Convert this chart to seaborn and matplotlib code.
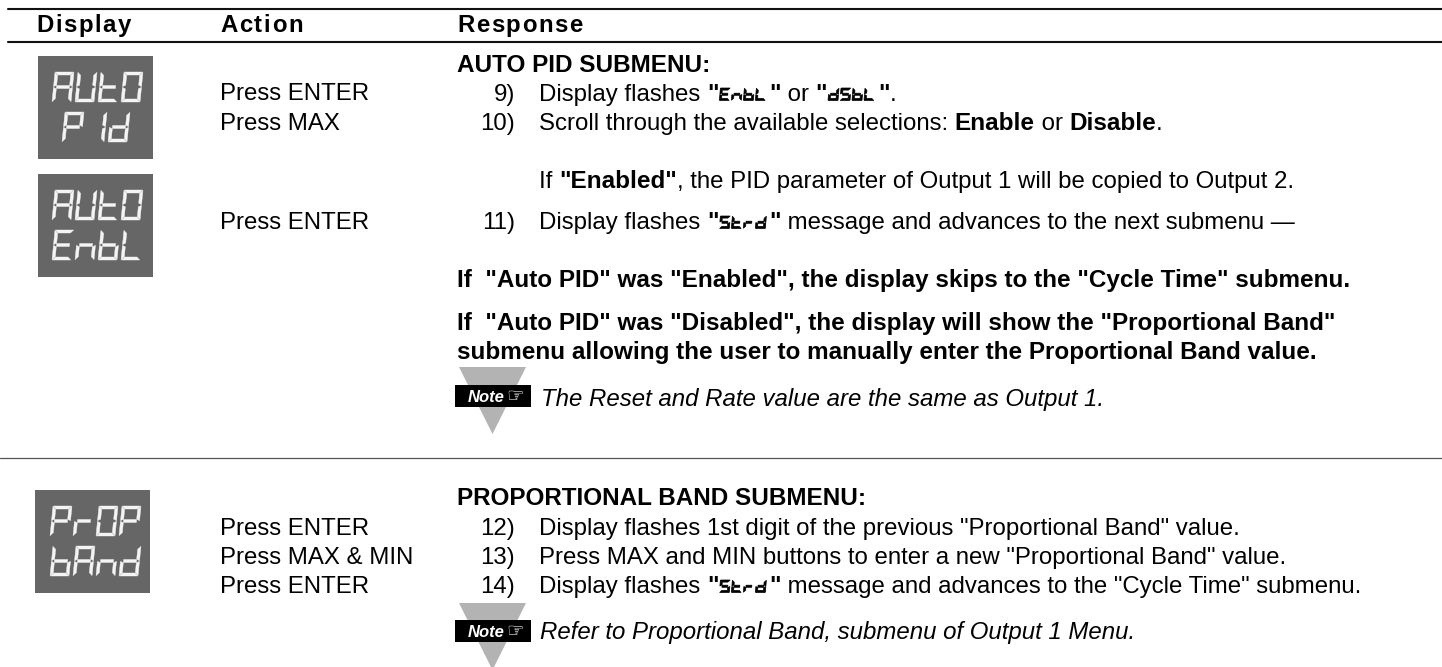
import matplotlib
matplotlib.use("Agg")
import matplotlib.pyplot as plt
from matplotlib.patches import Polygon, Rectangle
import seaborn as sns

# Table text
HEADERS = [("Display", 36), ("Action", 220), ("Response", 457)]
ACTIONS = [
    ("Press ENTER", 100), ("Press MAX", 130), ("Press ENTER", 229),
    ("Press ENTER", 535), ("Press MAX & MIN", 564), ("Press ENTER", 593),
]
STEP_NUMBERS = [("9)", 101), ("10)", 130), ("11)", 229), ("12)", 535), ("13)", 564), ("14)", 593)]

# n = normal, b = bold, i = italic, s = seven segment glyphs
BODY_LINES = [
    (457, 72, [("AUTO PID SUBMENU:", "b")]),
    (539, 101, [("Display flashes ", "n"), ('"', "b"), ("EnbL", "s"), ('"', "b"), (" or ", "n"),
                ('"', "b"), ("dSbL", "s"), ('"', "b"), (".", "n")]),
    (539, 130, [("Scroll through the available selections: ", "n"), ("Enable", "b"), (" or ", "n"),
                ("Disable", "b"), (".", "n")]),
    (539, 188, [("If ", "n"), ('"Enabled"', "b"), (", the PID parameter of Output 1 will be copied to Output 2.", "n")]),
    (539, 229, [("Display flashes ", "n"), ('"', "b"), ("Strd", "s"), ('"', "b"),
                (" message and advances to the next submenu \u2014", "n")]),
    (457, 287, [('If  "Auto PID" was "Enabled", the display skips to the "Cycle Time" submenu.', "b")]),
    (457, 330, [('If  "Auto PID" was "Disabled", the display will show the "Proportional Band"', "b")]),
    (457, 359, [("submenu allowing the user to manually enter the Proportional Band value.", "b")]),
    (541, 406, [("The Reset and Rate value are the same as Output 1.", "i")]),
    (457, 505, [("PROPORTIONAL BAND SUBMENU:", "b")]),
    (539, 535, [('Display flashes 1st digit of the previous "Proportional Band" value.', "n")]),
    (539, 564, [('Press MAX and MIN buttons to enter a new "Proportional Band" value.', "n")]),
    (539, 593, [("Display flashes ", "n"), ('"', "b"), ("Strd", "s"), ('"', "b"),
                (' message and advances to the "Cycle Time" submenu.', "n")]),
    (540, 639, [("Refer to Proportional Band, submenu of Output 1 Menu.", "i")]),
]

# panel left, panel top, first row text + x, second row text + x
DISPLAY_PANELS = [
    (38, 56, ("AUtO", 52), ("P1d", 62)),
    (38, 174, ("AUtO", 52), ("EnbL", 52)),
    (35, 490, ("PrOP", 50), ("bAnd", 50)),
]
NOTE_MARKS = [(367, 385), (603, 620)]

SEGMENTS = {
    "A": "abcefg", "U": "bcdef", "t": "defg", "O": "abcdef", "P": "abefg", "1": "bc",
    "d": "bcdeg", "E": "adefg", "n": "ceg", "b": "cdefg", "L": "def", "r": "eg", "S": "acdfg",
}

sns.set_theme(style="white")
plt.rcParams["font.family"] = ["Liberation Sans", "DejaVu Sans"]

fig, ax = plt.subplots(figsize=(14.42, 6.67), dpi=100)
ax.set_position([0, 0, 1, 1])
ax.axis("off")

# Rules
for x0, y, lw, color in [(8, 8.5, 1.5, "#111111"), (8, 41.5, 1.5, "#111111"), (0, 458, 0.9, "#555555")]:
    sns.lineplot(x=[x0, 1442], y=[y, y], ax=ax, color=color, linewidth=lw, legend=False, errorbar=None)

ax.set_xlim(0, 1442)
ax.set_ylim(667, 0)

BODY_SIZE = 17.3
BOLD_SIZE = 17.45
renderer = fig.canvas.get_renderer()


def text_width(s, size, **kw):
    t = ax.text(0, 0, "|" + s + "|", fontsize=size, **kw)
    w1 = t.get_window_extent(renderer).width
    t.set_text("||")
    w0 = t.get_window_extent(renderer).width
    t.remove()
    return w1 - w0


def draw_segments(x, y, w, h, code, color, th, slant=0.1, edge=0.3):
    # x, y = lower left of the glyph, y grows downward
    def P(px, py):
        return (x + px + (y - py) * slant, py)

    top, mid, bot = y - h, y - h / 2, y
    g = th * 0.12
    t2 = th / 2
    shapes = {
        "a": [(g, top), (w - g, top), (w - th - g, top + th), (th + g, top + th)],
        "d": [(th + g, bot - th), (w - th - g, bot - th), (w - g, bot), (g, bot)],
        "g": [(th, mid - t2), (w - th, mid - t2), (w - th, mid + t2), (th, mid + t2)],
        "f": [(0, top + g), (th, top + th + g), (th, mid - t2 - g), (0, mid - g)],
        "e": [(0, mid + g), (th, mid + t2 + g), (th, bot - th - g), (0, bot - g)],
        "b": [(w, top + g), (w, mid - g), (w - th, mid - t2 - g), (w - th, top + th + g)],
        "c": [(w, mid + g), (w, bot - g), (w - th, bot - th - g), (w - th, mid + t2 + g)],
    }
    for s in SEGMENTS[code]:
        ax.add_patch(Polygon([P(*p) for p in shapes[s]], closed=True, color=color, lw=edge))


def draw_runs(x, y, runs):
    for s, style in runs:
        if style == "s":
            for i, ch in enumerate(s):
                draw_segments(x + 1 + i * 12, y - 0.5, 10, 12.5, ch, "#000000", 2.1, slant=0.08, edge=0.5)
            x += len(s) * 12 + 3
            continue
        kw = {}
        size = BODY_SIZE
        if style == "b":
            kw["fontweight"] = "bold"
            size = BOLD_SIZE
        if style == "i":
            kw["fontstyle"] = "italic"
        ax.text(x, y, s, fontsize=size, color="#000000", va="baseline", ha="left", **kw)
        x += text_width(s, size, **kw)


# Header, letter spaced
for label, x in HEADERS:
    for ch in label:
        ax.text(x, 32, ch, fontsize=BODY_SIZE, fontweight="bold", color="#000000", va="baseline")
        x += text_width(ch, BODY_SIZE, fontweight="bold") + 1.6

for label, y in ACTIONS:
    ax.text(220, y, label, fontsize=BODY_SIZE, color="#000000", va="baseline")
for label, y in STEP_NUMBERS:
    ax.text(515, y, label, fontsize=BODY_SIZE, color="#000000", va="baseline", ha="right")
for x, y, runs in BODY_LINES:
    draw_runs(x, y, runs)

# Gray display panels
for left, top, row1, row2 in DISPLAY_PANELS:
    ax.add_patch(Rectangle((left, top), 115, 103, color="#666666", lw=0))
    for (word, x0), y in [(row1, top + 46), (row2, top + 86)]:
        for i, ch in enumerate(word):
            draw_segments(x0 + i * 23, y, 19, 30, ch, "#f4f4f4", 3.0)

# Note marks
for tri_top, box_top in NOTE_MARKS:
    ax.add_patch(Polygon([(459, tri_top), (526, tri_top), (492.5, tri_top + 67)], closed=True, color="#b3b3b3", lw=0))
    ax.add_patch(Rectangle((455, box_top), 76, 22, color="#000000", lw=0))
    ax.text(468, box_top + 17, "Note", color="white", fontsize=12, fontweight="bold", fontstyle="italic",
            family=["Liberation Sans Narrow", "Liberation Sans"], va="baseline")
    ax.text(506, box_top + 17, "\u261e", color="white", fontsize=14, family=["DejaVu Sans"], va="baseline")

fig.savefig("out.png", dpi=100)
